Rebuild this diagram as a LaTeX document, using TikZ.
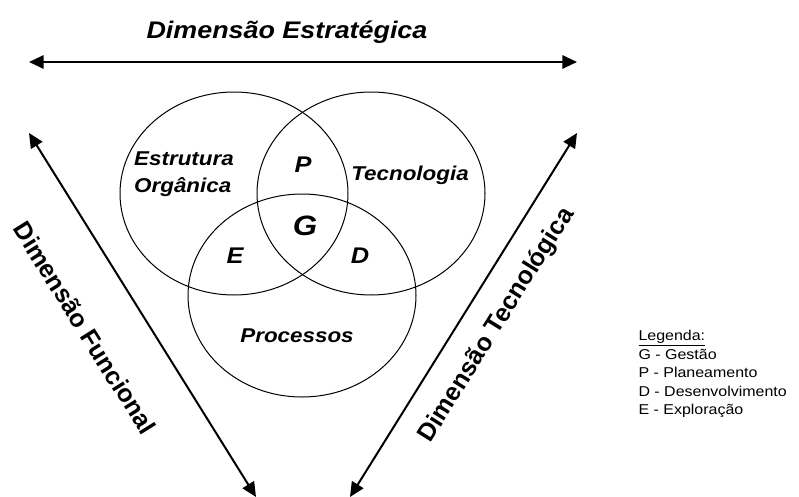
\documentclass[tikz,border=0pt]{standalone}
\usepackage{fontspec}
\setmainfont{Liberation Sans}
\newfontfamily\wideface{Liberation Sans}[FakeStretch=1.12]
\usetikzlibrary{arrows.meta,shapes.geometric}

\tikzset{every picture/.style={line width=0.75pt}}
\tikzset{
  dimarrow/.style={line width=1.5pt,{Triangle[length=11pt,width=10pt]}-{Triangle[length=11pt,width=10pt]}},
  venn/.style={draw,ellipse,minimum width=171pt,minimum height=152.25pt},
  toplabel/.style={font=\wideface\fontsize{18}{22}\selectfont\bfseries\itshape},
  sidelabel/.style={font=\fontsize{18.8}{22}\selectfont\bfseries},
  arealabel/.style={font=\wideface\fontsize{15}{20}\selectfont\bfseries\itshape,inner sep=0pt},
  letterlabel/.style={font=\wideface\fontsize{17}{20}\selectfont\bfseries\itshape,inner sep=0pt},
  legendtext/.style={font=\wideface\fontsize{10.7}{13.8}\selectfont,align=left,inner sep=0pt}
}

\begin{document}
\begin{tikzpicture}[x=0.75pt,y=0.75pt,yscale=-1,xscale=1]
\useasboundingbox (0,0) rectangle (799,496);
%Shape: Ellipse [Estrutura Organica]
\node [venn] (orga) at (234,193.5) {};
%Shape: Ellipse [Tecnologia]
\node [venn] (tecn) at (371,193.5) {};
%Shape: Ellipse [Processos]
\node [venn] (proc) at (302,295.5) {};
% Arrow ends
\coordinate (estrL) at (29,62);
\coordinate (estrR) at (577,62);
\coordinate (funcT) at (29,133);
\coordinate (funcB) at (256,497);
\coordinate (tecT) at (577,133);
\coordinate (tecB) at (350,497);
%Straight Lines [Dimensoes]
\draw [dimarrow] (estrL) -- (estrR);
\draw [dimarrow] (funcT) -- (funcB);
\draw [dimarrow] (tecT) -- (tecB);
% Text Node
\node [toplabel,anchor=base] (estrat) at (287,38) {Dimensão Estratégica};
% Text Node
\node [sidelabel,rotate=-58] (funcional) at (85,328) {Dimensão Funcional};
% Text Node
\node [sidelabel,rotate=58] (tecnologica) at (497,325) {Dimensão Tecnológica};
% Text Node
\node [arealabel,align=left] (orgtxt) at (184,174) {Estrutura\\Orgânica};
% Text Node
\node [arealabel,anchor=base] (tectxt) at (410,180) {Tecnologia};
% Text Node
\node [arealabel,anchor=base] (proctxt) at (297,342) {Processos};
% Text Node
\node [letterlabel,anchor=base] (ptxt) at (303,172) {P};
% Text Node
\node [letterlabel,anchor=base,font=\wideface\fontsize{21}{24}\selectfont\bfseries\itshape] (gtxt) at (305,235) {G};
% Text Node
\node [letterlabel,anchor=base] (etxt) at (235,263) {E};
% Text Node
\node [letterlabel,anchor=base] (dtxt) at (360,263) {D};
% Text Node
\node [legendtext,anchor=north west] (legenda) at (638,330) {\underline{Legenda:}\\G - Gestão\\P - Planeamento\\D - Desenvolvimento\\E - Exploração};
\end{tikzpicture}
\end{document}
